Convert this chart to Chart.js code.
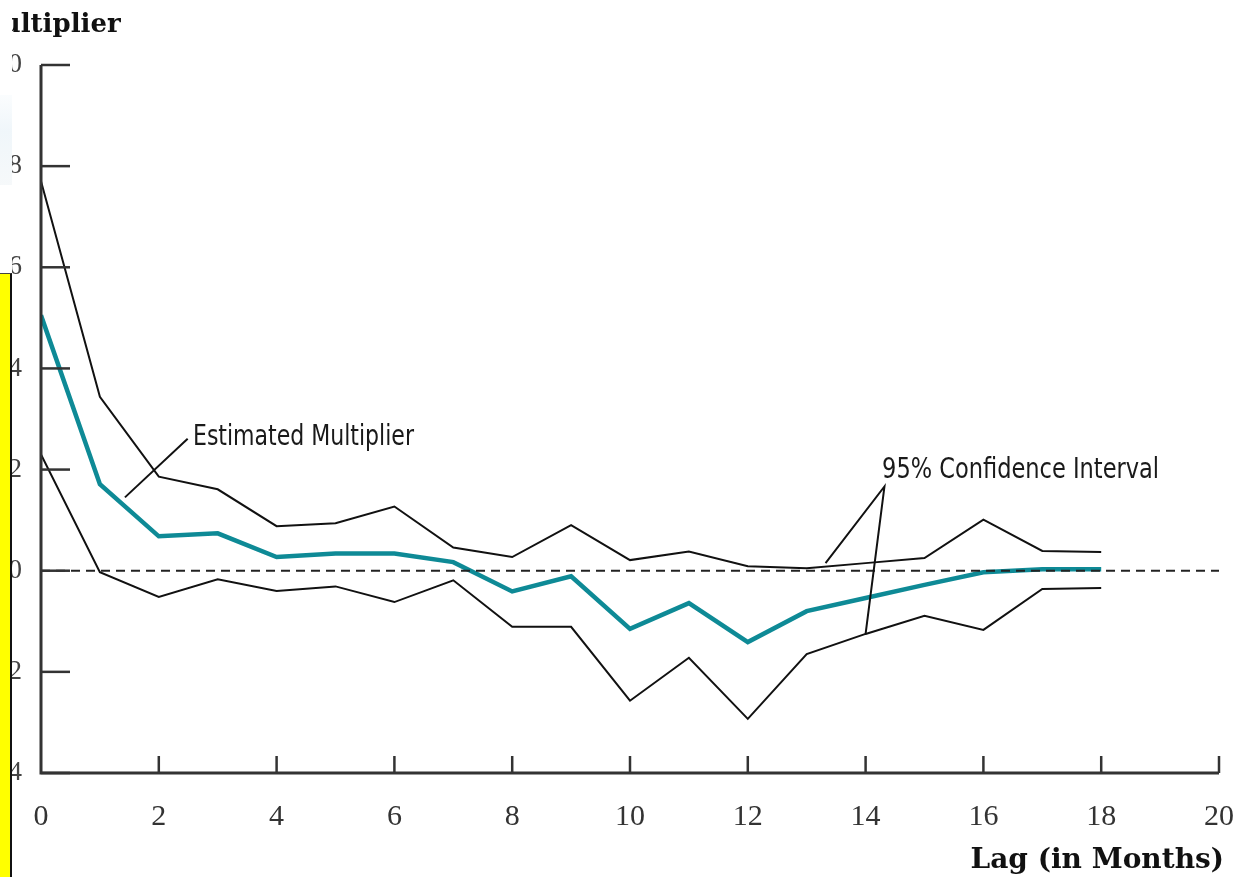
<!DOCTYPE html>
<html>
<head>
<meta charset="utf-8">
<script src="https://cdn.jsdelivr.net/npm/chart.js@4/dist/chart.umd.min.js"></script>
<style>
  html, body { margin:0; padding:0; background:#fff; overflow:hidden; }
  body { width:1241px; height:877px; position:relative; }
  #c { position:absolute; left:-36px; top:0; width:1277px; height:877px; }
  #cover { position:absolute; left:0; top:0; width:12px; height:273px; background:#fff; }
  #blue { position:absolute; left:0; top:95px; width:12px; height:90px;
          background:linear-gradient(to bottom, rgba(240,247,251,0.3), rgba(236,244,249,0.8) 40%, rgba(242,246,248,0.7)); }
  #yellow { position:absolute; left:0; top:273px; width:10px; height:604px; background:#ffff00;
            border-right:2px solid #111; border-top:1px solid #444; }
</style>
</head>
<body>
<canvas id="c" width="1277" height="877"></canvas>
<div id="cover"></div>
<div id="blue"></div>
<div id="yellow"></div>
<script>
// ---- data ----
const lags = [0,1,2,3,4,5,6,7,8,9,10,11,12,13,14,15,16,17,18];
const estimated = [0.505,0.171,0.068,0.074,0.027,0.034,0.034,0.017,-0.041,-0.011,-0.115,-0.064,-0.141,-0.080,-0.054,-0.028,-0.003,0.003,0.003];
const upperCI  = [0.770,0.344,0.186,0.161,0.088,0.094,0.127,0.046,0.027,0.090,0.021,0.038,0.009,0.005,0.015,0.025,0.101,0.039,0.037];
const lowerCI  = [0.230,-0.003,-0.052,-0.017,-0.040,-0.031,-0.062,-0.019,-0.111,-0.111,-0.257,-0.172,-0.293,-0.165,-0.125,-0.089,-0.117,-0.036,-0.034];
const xTicks = [0,2,4,6,8,10,12,14,16,18,20];
const yTicks = [-0.4,-0.2,0,0.2,0.4,0.6,0.8,1.0];
const yTickLabels = {"-0.4":"\u2212.4","-0.2":"\u2212.2","0":"0","0.2":".2","0.4":".4","0.6":".6","0.8":".8","1":"1.0"};
const yTitle = "Multiplier";
const xTitle = "Lag (in Months)";
const labelEst = "Estimated Multiplier";
const labelCI = "95% Confidence Interval";

const pts = arr => lags.map((l,i)=>({x:l, y:arr[i]}));

const AXIS = '#333';
function fitText(ctx, text, x, y, w){
  const m = ctx.measureText(text).width;
  const s = Math.min(1.15, w / m);
  ctx.save(); ctx.translate(x, y); ctx.scale(s, 1); ctx.fillText(text, 0, 0); ctx.restore();
}
const decor = {
  id:'decor',
  afterDraw(chart){
    const ctx = chart.ctx, xs = chart.scales.x, ys = chart.scales.y, ca = chart.chartArea;
    ctx.save();
    // zero dashed line
    ctx.strokeStyle = '#222'; ctx.lineWidth = 2; ctx.setLineDash([9,6]);
    const y0 = ys.getPixelForValue(0);
    ctx.beginPath(); ctx.moveTo(ca.left, y0); ctx.lineTo(ca.right, y0); ctx.stroke();
    ctx.setLineDash([]);
    // axes
    ctx.strokeStyle = AXIS; ctx.lineWidth = 3;
    ctx.beginPath(); ctx.moveTo(ca.left, ca.top); ctx.lineTo(ca.left, ca.bottom); ctx.lineTo(ca.right, ca.bottom); ctx.stroke();
    // inward ticks
    ctx.lineWidth = 2.5;
    yTicks.forEach(v=>{ const p = ys.getPixelForValue(v);
      ctx.beginPath(); ctx.moveTo(ca.left, p); ctx.lineTo(ca.left+29, p); ctx.stroke(); });
    xTicks.forEach(v=>{ if(v===0) return; const p = xs.getPixelForValue(v);
      ctx.beginPath(); ctx.moveTo(p, ca.bottom); ctx.lineTo(p, ca.bottom-17); ctx.stroke(); });
    // leader lines
    ctx.strokeStyle = '#111'; ctx.lineWidth = 2;
    const P = (x,y)=>[xs.getPixelForValue(x), ys.getPixelForValue(y)];
    let a = P(2.49,0.261), b = P(1.425,0.145);
    ctx.beginPath(); ctx.moveTo(a[0],a[1]); ctx.lineTo(b[0],b[1]); ctx.stroke();
    a = P(14.32,0.1665);
    b = P(13.32,0.0148);
    const c = P(14.0,-0.125);
    ctx.beginPath(); ctx.moveTo(b[0],b[1]); ctx.lineTo(a[0],a[1]); ctx.lineTo(c[0],c[1]); ctx.stroke();
    // annotation texts
    ctx.fillStyle = '#1a1a1a';
    ctx.font = '28px "Liberation Sans Narrow", "DejaVu Sans Condensed", "Roboto Condensed", sans-serif';
    ctx.textAlign = 'left'; ctx.textBaseline = 'alphabetic';
    let t = P(2.58,0.249); fitText(ctx, labelEst, t[0], t[1], 221);
    t = P(14.28,0.184); fitText(ctx, labelCI, t[0], t[1], 277);
    // titles
    ctx.fillStyle = '#111';
    ctx.font = 'bold 26px "DejaVu Serif", serif';
    ctx.textAlign = 'left';
    ctx.fillText(yTitle, 9, 32);
    ctx.font = 'bold 28px "DejaVu Serif", serif';
    ctx.textAlign = 'right';
    ctx.fillText(xTitle, ca.right + 5, 868);
    ctx.restore();
  }
};

new Chart(document.getElementById('c'), {
  type:'line',
  data:{
    datasets:[
      { label:'Upper 95% CI', data:pts(upperCI), borderColor:'#111', borderWidth:2, pointRadius:0, tension:0, fill:false },
      { label:'Lower 95% CI', data:pts(lowerCI), borderColor:'#111', borderWidth:2, pointRadius:0, tension:0, fill:false },
      { label:'Estimated Multiplier', data:pts(estimated), borderColor:'#0e8a96', borderWidth:4.5, pointRadius:0, tension:0, fill:false }
    ]
  },
  options:{
    responsive:false, maintainAspectRatio:false, animation:false, devicePixelRatio:1,
    layout:{ padding:{ left:0, right:22, top:65, bottom:0 } },
    plugins:{ legend:{display:false}, tooltip:{enabled:false}, title:{display:false} },
    scales:{
      x:{ type:'linear', min:0, max:20,
          afterBuildTicks(s){ s.ticks = xTicks.map(v=>({value:v})); },
          afterFit(s){ s.height = 104; s.paddingLeft = 0; s.paddingRight = 0; },
          grid:{ display:false, drawTicks:false }, border:{ display:false },
          ticks:{ padding:26, color:'#333', font:{ family:'"Liberation Serif", serif', size:30 }, maxRotation:0, autoSkip:false } },
      y:{ type:'linear', min:-0.4, max:1.0,
          afterBuildTicks(s){ s.ticks = yTicks.map(v=>({value:v})); },
          afterFit(s){ s.width = 77; s.paddingTop = 0; s.paddingBottom = 0; },
          grid:{ display:false, drawTicks:false }, border:{ display:false },
          ticks:{ padding:19, color:'#444', font:{ family:'"Liberation Serif", serif', size:27 },
                  callback:(v)=> yTickLabels[String(Math.round(v*10)/10)] ?? String(v) } }
    }
  },
  plugins:[decor]
});
</script>
</body>
</html>
